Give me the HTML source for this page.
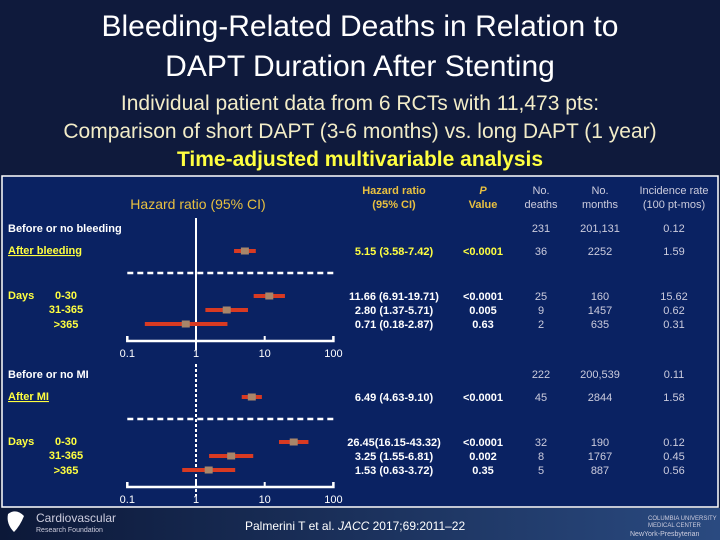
<!DOCTYPE html>
<html><head><meta charset="utf-8"><style>
body{margin:0;width:720px;height:540px;overflow:hidden;background:#0f1a3c;font-family:"Liberation Sans",sans-serif;}
svg{position:absolute;left:0;top:0}
</style></head><body>
<svg id="s" width="720" height="540">
<defs><linearGradient id="ft" x1="0" x2="1"><stop offset="0" stop-color="#0c1838"/><stop offset="1" stop-color="#2a4a80"/></linearGradient></defs>
<rect x="0" y="508" width="720" height="32" fill="url(#ft)"/>
<text x="360" y="36" font-size="30" fill="#fff" text-anchor="middle">Bleeding-Related Deaths in Relation to</text>
<text x="360" y="76" font-size="30" fill="#fff" text-anchor="middle">DAPT Duration After Stenting</text>
<text x="360" y="110" font-size="21" fill="#f2ecc8" text-anchor="middle">Individual patient data from 6 RCTs with 11,473 pts:</text>
<text x="360" y="138" font-size="21" fill="#f2ecc8" text-anchor="middle">Comparison of short DAPT (3-6 months) vs. long DAPT (1 year)</text>
<text x="360" y="166" font-size="21" font-weight="bold" fill="#ffff40" text-anchor="middle">Time-adjusted multivariable analysis</text>
<rect x="2" y="176" width="716" height="331" fill="#0a2262" stroke="#fff" stroke-width="1.5"/>
<text x="198" y="209" font-size="14" fill="#e8c040" text-anchor="middle">Hazard ratio (95% CI)</text>
<g font-size="11" text-anchor="middle">
<text x="394" y="194" fill="#e8c040" font-weight="bold">Hazard ratio</text><text x="394" y="208" fill="#e8c040" font-weight="bold">(95% CI)</text>
<text x="483" y="194" fill="#e8c040" font-weight="bold" font-style="italic">P</text><text x="483" y="208" fill="#e8c040" font-weight="bold">Value</text>
<text x="541" y="194" fill="#ccd">No.</text><text x="541" y="208" fill="#ccd">deaths</text>
<text x="600" y="194" fill="#ccd">No.</text><text x="600" y="208" fill="#ccd">months</text>
<text x="674" y="194" fill="#ccd">Incidence rate</text><text x="674" y="208" fill="#ccd">(100 pt-mos)</text>
</g>
<g id="g" font-size="11"></g>
<text x="245" y="530" font-size="12" fill="#fff">Palmerini T et al. <tspan font-style="italic">JACC</tspan> 2017;69:2011–22</text>
<text x="36" y="522" font-size="12" fill="#ccd">Cardiovascular</text>
<text x="36" y="532" font-size="7" fill="#ccd">Research Foundation</text>
<path d="M8 514 q8 -6 16 2 q-4 10 -10 16 q-8 -8 -6 -18z" fill="#fff"/>
<text x="648" y="520" font-size="6" fill="#ccd">COLUMBIA UNIVERSITY</text>
<text x="648" y="527" font-size="6" fill="#ccd">MEDICAL CENTER</text>
<text x="630" y="536" font-size="7" fill="#ccd">NewYork-Presbyterian</text>
</svg>
<script>
const hr=[5.15,11.66,2.80,0.71,6.49,26.45,3.25,1.53];
const lo=[3.58,6.91,1.37,0.18,4.63,16.15,1.55,0.63];
const hi=[7.42,19.71,5.71,2.87,9.10,43.32,6.81,3.72];
const hrText=["5.15 (3.58-7.42)","11.66 (6.91-19.71)","2.80 (1.37-5.71)","0.71 (0.18-2.87)","6.49 (4.63-9.10)","26.45(16.15-43.32)","3.25 (1.55-6.81)","1.53 (0.63-3.72)"];
const pText=["<0.0001","<0.0001","0.005","0.63","<0.0001","<0.0001","0.002","0.35"];
const deaths=["36","25","9","2","45","32","8","5"];
const months=["2252","160","1457","635","2844","190","1767","887"];
const rate=["1.59","15.62","0.62","0.31","1.58","0.12","0.45","0.56"];
const refRows=[["231","201,131","0.12"],["222","200,539","0.11"]];
const ticks=[0.1,1,10,100];
const rowY=[251,296,310,324,397,442,456,470];
const ns="http://www.w3.org/2000/svg",G=document.getElementById('g');
const X=v=>196+68.7*Math.log10(v);
function el(t,a,txt){const e=document.createElementNS(ns,t);for(const k in a)e.setAttribute(k,a[k]);if(txt!=null)e.textContent=txt;G.appendChild(e);return e;}
function txt(x,y,s,fill,anchor,bold){return el('text',{x:x,y:y,fill:fill,'text-anchor':anchor||'middle','font-weight':bold?'bold':'normal'},s);}
[0,1].forEach(p=>{
 const o=p*146;
 const base=txt(8,232+o,p?"Before or no MI":"Before or no bleeding","#fff","start",true);
 
 
 const a=txt(8,254+o,p?"After MI":"After bleeding","#ffff40","start",true);
 a.setAttribute('text-decoration','underline');
 
 
 const d=txt(8,299+o,"Days","#ffff40","start",true);
 
 
 [["0-30",299],["31-365",313],[">365",328]].forEach(([s,y])=>{const t=txt(66,y+o,s,"#ffff40","middle",true);
  
  });
 refRows[p].forEach((s,i)=>{const t=txt([541,600,674][i],232+o,s,"#ccd");
  
  });
 const v=el('line',{x1:X(1),x2:X(1),y1:218+o,y2:350+o,stroke:'#fff','stroke-width':2,'stroke-dasharray':p?'3,2':''});
 
 
 const dl=el('line',{x1:X(0.1),x2:X(100),y1:273+o,y2:273+o,stroke:'#fff','stroke-width':2.5,'stroke-dasharray':'6,4'});
 
 
 const ax=el('path',{d:`M${X(0.1)} 336 V341 H${X(100)} V336`.replace(/336|341/g,m=>+m+o),stroke:'#fff','stroke-width':2.5,fill:'none'});
 
 
 ticks.forEach(t=>{el('line',{x1:X(t),x2:X(t),y1:336+o,y2:341+o,stroke:'#fff','stroke-width':2});
  const l=txt(X(t),357+o,String(t),"#fff");
  
  });
});
hr.forEach((v,i)=>{
 const y=rowY[i],yt=y+4;
 const ci=el('line',{x1:X(lo[i]),x2:X(hi[i]),y1:y,y2:y,stroke:'#d83a22','stroke-width':4});
 
 
 const b=el('rect',{x:X(v)-4,y:y-3.5,width:8,height:7,fill:'#a8866a'});
 
 
 const yellow=(i===0);
 const c=yellow?"#ffff40":"#fff";
 const vals=[[394,hrText[i],c,true],[483,pText[i],c,true],[541,deaths[i],"#ccd",false],[600,months[i],"#ccd",false],[674,rate[i],"#ccd",false]];
 vals.forEach(([x,s,f,bd])=>{const t=txt(x,yt,s,f,"middle",bd);
  
  });
});
</script>
</body></html>
